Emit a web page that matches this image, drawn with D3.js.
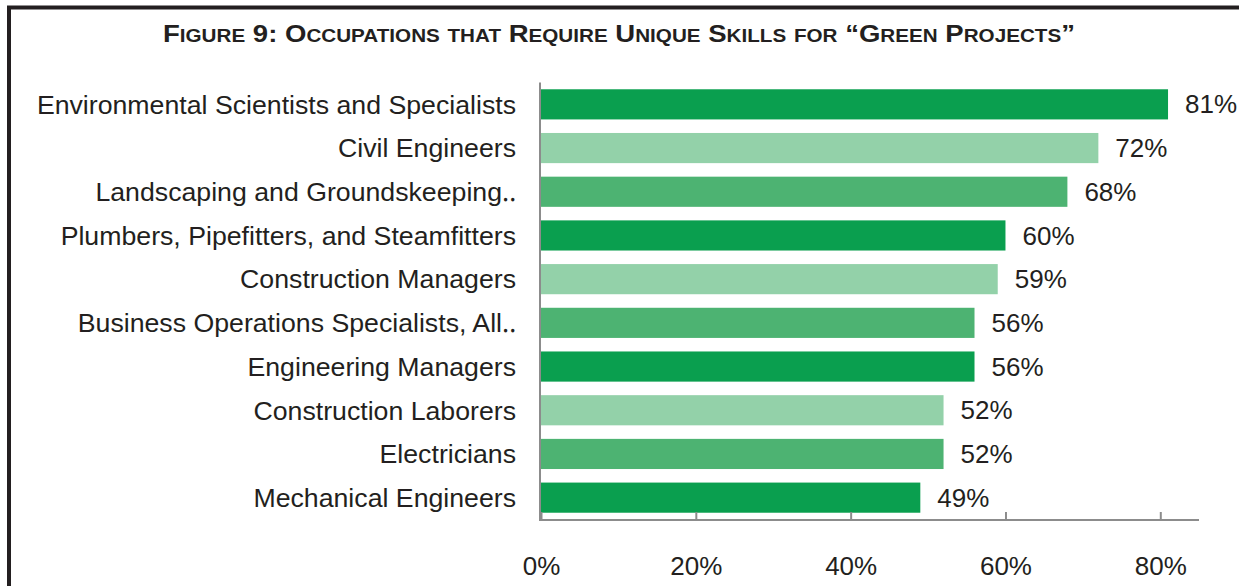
<!DOCTYPE html>
<html>
<head>
<meta charset="utf-8">
<script src="https://cdn.jsdelivr.net/npm/d3@7"></script>
<style>
  html, body { margin: 0; padding: 0; background: #fff; }
  svg { display: block; }
  text { font-family: "Liberation Sans", Arial, sans-serif; fill: #231f20; }
</style>
</head>
<body>
<svg id="chart" width="1239" height="586"></svg>
<script>
const categories = [
  "Environmental Scientists and Specialists",
  "Civil Engineers",
  "Landscaping and Groundskeeping\u2025",
  "Plumbers, Pipefitters, and Steamfitters",
  "Construction Managers",
  "Business Operations Specialists, All\u2025",
  "Engineering Managers",
  "Construction Laborers",
  "Electricians",
  "Mechanical Engineers"
];
const values = [81, 72, 68, 60, 59, 56, 56, 52, 52, 49];
const tickValues = [0, 20, 40, 60, 80];
const titleText = "Figure 9: Occupations that Require Unique Skills for \u201CGreen Projects\u201D";

const palette = ["#0a9f4f", "#93d1a9", "#4db372"];

const svg = d3.select("#chart");

// frame
svg.append("rect")
  .attr("x", 9).attr("y", 7.5)
  .attr("width", 1300).attr("height", 700)
  .attr("fill", "none").attr("stroke", "#231f20").attr("stroke-width", 4);

// title with small caps
const title = svg.append("text")
  .attr("x", 163).attr("y", 42)
  .attr("textLength", 912)
  .attr("lengthAdjust", "spacingAndGlyphs")
  .style("font-family", "'Liberation Sans Narrow', 'Liberation Sans', Arial, sans-serif")
  .style("font-weight", "bold");
let runs = [];
for (const ch of titleText) {
  const small = ch !== ch.toUpperCase();
  if (runs.length && runs[runs.length - 1].small === small) runs[runs.length - 1].t += ch;
  else runs.push({ small, t: ch });
}
runs.forEach(r => {
  title.append("tspan")
    .style("font-size", r.small ? "18px" : "24px")
    .text(r.small ? r.t.toUpperCase() : r.t);
});

const x = d3.scaleLinear().domain([0, 85]).range([541, 1199]);
const y = d3.scaleBand().domain(categories).range([82.5, 519.5])
  .paddingInner(0.31).paddingOuter(0.155);

// bars
svg.append("g").selectAll("rect")
  .data(values)
  .join("rect")
  .attr("x", x(0))
  .attr("y", (d, i) => y(categories[i]))
  .attr("width", d => x(d) - x(0))
  .attr("height", y.bandwidth())
  .attr("fill", (d, i) => palette[i % 3]);

// value labels
svg.append("g").selectAll("text")
  .data(values)
  .join("text")
  .attr("x", d => x(d) + 17)
  .attr("y", (d, i) => y(categories[i]) + y.bandwidth() / 2)
  .attr("dy", "0.35em")
  .style("font-size", "26px")
  .text(d => d + "%");

// category labels
svg.append("g").selectAll("text")
  .data(categories)
  .join("text")
  .attr("x", 516)
  .attr("y", d => y(d) + y.bandwidth() / 2)
  .attr("dy", "0.35em")
  .attr("text-anchor", "end")
  .style("font-size", "26.7px")
  .text(d => d);

// x axis (ticks inside)
const xAxis = d3.axisBottom(x).tickValues(tickValues).tickSize(-8).tickFormat(d => d + "%").tickPadding(0);
const gx = svg.append("g").attr("transform", "translate(0,520)").call(xAxis);
gx.select(".domain").attr("stroke", "#8c8c8c").attr("stroke-width", 2).attr("d", "M540,0H1199");
gx.selectAll(".tick line").attr("stroke", "#8c8c8c").attr("stroke-width", 2);
gx.selectAll(".tick text")
  .attr("y", 55).attr("dy", 0)
  .style("font-size", "26px")
  .style("font-family", "'Liberation Sans', Arial, sans-serif")
  .attr("fill", "#231f20");

// y axis line
svg.append("line")
  .attr("x1", 540).attr("x2", 540)
  .attr("y1", 82.5).attr("y2", 521)
  .attr("stroke", "#8c8c8c").attr("stroke-width", 2);
</script>
</body>
</html>
